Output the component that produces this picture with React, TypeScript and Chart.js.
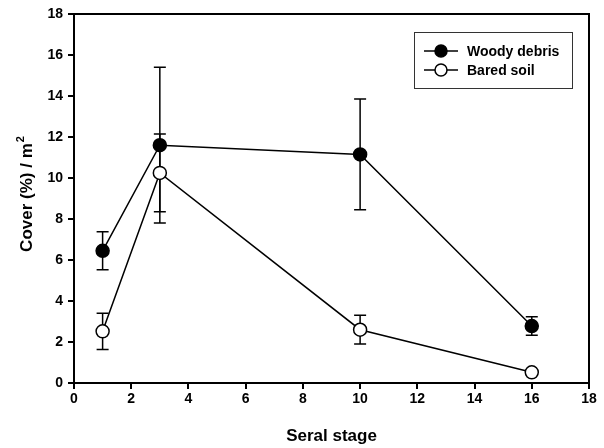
import React, { useEffect, useRef } from "react";
import { Chart, registerables } from "chart.js";

Chart.register(...registerables);

const seralStages = [1, 3, 10, 16];
const woodyDebris = [6.45, 11.6, 11.15, 2.78];
const woodyErr = [0.93, 3.8, 2.7, 0.45];
const baredSoil = [2.52, 10.25, 2.6, 0.52];
const baredErr = [0.88, 1.9, 0.7, 0.1];
const xTicks = [0, 2, 4, 6, 8, 10, 12, 14, 16, 18];
const yTicks = [0, 2, 4, 6, 8, 10, 12, 14, 16, 18];
const seriesLabels = ["Woody debris", "Bared soil"];
const xTitle = "Seral stage";
const yTitleMain = "Cover (%) / m";
const yTitleSup = "2";

const FONT = "Arial, 'Liberation Sans', sans-serif";

const errorBarPlugin = {
  id: "errorBars",
  beforeDatasetsDraw(chart: any) {
    const ctx = chart.ctx;
    const xs = chart.scales.x;
    const ys = chart.scales.y;
    const errs = [woodyErr, baredErr];
    ctx.save();
    ctx.strokeStyle = "#000";
    ctx.lineWidth = 1.5;
    chart.data.datasets.forEach((ds: any, di: number) => {
      ds.data.forEach((p: any, i: number) => {
        const e = errs[di][i];
        const px = xs.getPixelForValue(p.x);
        const top = ys.getPixelForValue(p.y + e);
        const bot = ys.getPixelForValue(p.y - e);
        ctx.beginPath();
        ctx.moveTo(px, top);
        ctx.lineTo(px, bot);
        ctx.moveTo(px - 6, top);
        ctx.lineTo(px + 6, top);
        ctx.moveTo(px - 6, bot);
        ctx.lineTo(px + 6, bot);
        ctx.stroke();
      });
    });
    ctx.restore();
  },
};

const framePlugin = {
  id: "frameAndLegend",
  afterDraw(chart: any) {
    const ctx = chart.ctx;
    const a = chart.chartArea;
    ctx.save();
    ctx.strokeStyle = "#000";
    ctx.lineWidth = 2;
    ctx.strokeRect(a.left, a.top, a.right - a.left, a.bottom - a.top);

    // axis titles
    ctx.fillStyle = "#000";
    ctx.font = `bold 17px ${FONT}`;
    ctx.textAlign = "center";
    ctx.textBaseline = "middle";
    ctx.fillText(xTitle, (a.left + a.right) / 2, 436);

    ctx.save();
    ctx.translate(32, 194);
    ctx.rotate(-Math.PI / 2);
    ctx.font = `bold 17px ${FONT}`;
    const wMain = ctx.measureText(yTitleMain).width;
    ctx.font = `bold 11px ${FONT}`;
    const wSup = ctx.measureText(yTitleSup).width;
    const start = -(wMain + wSup + 1) / 2;
    ctx.textAlign = "left";
    ctx.textBaseline = "alphabetic";
    ctx.font = `bold 17px ${FONT}`;
    ctx.fillText(yTitleMain, start, 0);
    ctx.font = `bold 11px ${FONT}`;
    ctx.fillText(yTitleSup, start + wMain + 1, -8);
    ctx.restore();

    // legend
    const lx = 414, ly = 32, lw = 158, lh = 56;
    ctx.lineWidth = 1;
    ctx.strokeStyle = "#333";
    ctx.strokeRect(lx + 0.5, ly + 0.5, lw, lh);
    const fills = ["#000", "#fff"];
    const rows = [51, 70];
    ctx.font = `bold 14px ${FONT}`;
    ctx.textAlign = "left";
    ctx.textBaseline = "middle";
    chart.data.datasets.forEach((ds: any, i: number) => {
      const y = rows[i];
      ctx.strokeStyle = "#000";
      ctx.lineWidth = 1.5;
      ctx.beginPath();
      ctx.moveTo(424, y);
      ctx.lineTo(458, y);
      ctx.stroke();
      ctx.beginPath();
      ctx.arc(441, y, 6, 0, Math.PI * 2);
      ctx.fillStyle = fills[i];
      ctx.fill();
      ctx.stroke();
      ctx.fillStyle = "#000";
      ctx.fillText(ds.label, 467, y + 1);
    });
    ctx.restore();
  },
};

export default function App() {
  const ref = useRef<HTMLCanvasElement>(null);
  useEffect(() => {
    document.body.style.margin = "0";
    const mk = (ys: number[]) => seralStages.map((x, i) => ({ x, y: ys[i] }));
    const chart = new Chart(ref.current!, {
      type: "line",
      data: {
        datasets: [
          {
            label: seriesLabels[0],
            data: mk(woodyDebris),
            borderColor: "#000",
            borderWidth: 1.5,
            backgroundColor: "#000",
            pointBackgroundColor: "#000",
            pointBorderColor: "#000",
            pointBorderWidth: 1.5,
            pointRadius: 6.5,
            tension: 0,
          },
          {
            label: seriesLabels[1],
            data: mk(baredSoil),
            borderColor: "#000",
            borderWidth: 1.5,
            backgroundColor: "#fff",
            pointBackgroundColor: "#fff",
            pointBorderColor: "#000",
            pointBorderWidth: 1.5,
            pointRadius: 6.5,
            tension: 0,
          },
        ],
      },
      options: {
        animation: false,
        responsive: false,
        layout: { padding: { left: 0, right: 15, top: 14, bottom: 0 } },
        plugins: { legend: { display: false }, tooltip: { enabled: false } },
        scales: {
          x: {
            type: "linear",
            min: 0,
            max: 18,
            afterFit: (s: any) => { s.height = 65; },
            afterBuildTicks: (s: any) => { s.ticks = xTicks.map((v) => ({ value: v })); },
            grid: { drawOnChartArea: false, color: "#000", lineWidth: 2, tickLength: 6 },
            border: { color: "#000", width: 2 },
            ticks: { color: "#000", font: { family: FONT, size: 14, weight: "bold" }, padding: 2, maxRotation: 0 },
          },
          y: {
            type: "linear",
            min: 0,
            max: 18,
            afterFit: (s: any) => { s.width = 74; },
            afterBuildTicks: (s: any) => { s.ticks = yTicks.map((v) => ({ value: v })); },
            grid: { drawOnChartArea: false, color: "#000", lineWidth: 2, tickLength: 6 },
            border: { color: "#000", width: 2 },
            ticks: { color: "#000", font: { family: FONT, size: 14, weight: "bold" }, padding: 5 },
          },
        },
      } as any,
      plugins: [errorBarPlugin, framePlugin],
    });
    return () => chart.destroy();
  }, []);
  return (
    <div style={{ position: "absolute", left: 0, top: 0, width: 604, height: 448, background: "#fff" }}>
      <canvas ref={ref} width={604} height={448} style={{ width: 604, height: 448 }} />
    </div>
  );
}
